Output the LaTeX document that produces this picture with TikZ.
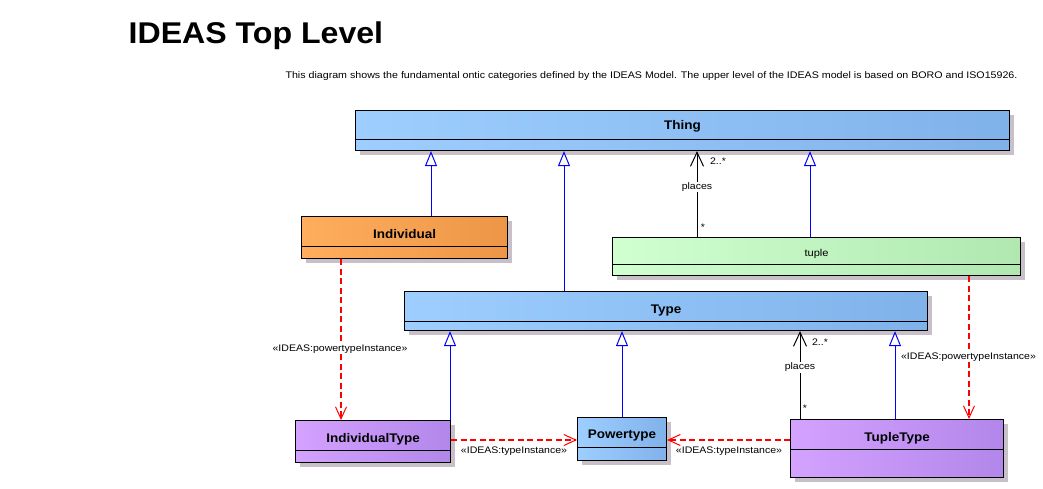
\documentclass[tikz,border=0pt]{standalone}
\usepackage{fontspec}
\setmainfont{Liberation Sans}
\newfontfamily\widefont[FakeStretch=1.11]{Liberation Sans}
\newfontfamily\namefont[FakeStretch=1.08]{Liberation Sans}
\newfontfamily\titlefont[FakeStretch=1.07]{Liberation Sans}
\usetikzlibrary{arrows.meta,shadows}
\definecolor{blueL}{HTML}{9ECEFF}
\definecolor{blueR}{HTML}{80B2EA}
\definecolor{orangeL}{HTML}{FFAE5E}
\definecolor{orangeR}{HTML}{EC9646}
\definecolor{greenL}{HTML}{D0FFD0}
\definecolor{greenR}{HTML}{B0E8B0}
\definecolor{purpleL}{HTML}{D4A2FF}
\definecolor{purpleR}{HTML}{B286EA}
\definecolor{shadowc}{HTML}{C8C0C8}
\definecolor{genfill}{HTML}{FFFFF0}
\definecolor{depred}{HTML}{FF0000}
\begin{document}
\begin{tikzpicture}[x=1pt,y=-1pt,
  cls/.style={draw=black, line width=1.1pt, rectangle, inner sep=0pt, anchor=north west,
    general shadow={fill=shadowc, shadow xshift=4pt, shadow yshift=-4pt}},
  clsname/.style={font=\namefont\fontsize{12.5}{14}\selectfont\bfseries, inner sep=0pt, anchor=base},
  lbl/.style={font=\widefont\fontsize{9.5}{11}\selectfont, inner sep=1pt},
  gen/.style={draw=blue, line width=1pt, -{Triangle[open, fill=genfill, length=15pt, width=12pt]}},
  assoc/.style={draw=black, line width=1pt, -{Straight Barb[length=14pt, width=13pt, line width=1pt]}},
  dep/.style={draw=depred, line width=1.1pt, dash pattern=on 6pt off 3.5pt, -{Straight Barb[length=12pt, width=11pt, line width=1pt]}},
  divl/.style={draw=black, line width=1pt}
]
\useasboundingbox (0,0) rectangle (1043,488);
\fill[white] (0,0) rectangle (1043,488);

% title and description
\node[anchor=base west, inner sep=0pt, font=\titlefont\fontsize{30}{34}\selectfont\bfseries] (title) at (128.5,43.3) {IDEAS Top Level};
\node[inner sep=0pt, font=\widefont\fontsize{9.6}{11}\selectfont] (desc) at (651.5,76) {This diagram shows the fundamental ontic categories defined by the IDEAS Model. The upper level of the IDEAS model is based on BORO and ISO15926.};

% classes
\node[cls, minimum width=654pt, minimum height=40pt, left color=blueL, right color=blueR] (Thing) at (355,110) {};
\draw[divl] ([yshift=-29pt]Thing.north west) -- ([yshift=-29pt]Thing.north east);
\node[clsname] (ThingName) at ([yshift=-19.3pt]Thing.north) {Thing};

\node[cls, minimum width=206pt, minimum height=42pt, left color=orangeL, right color=orangeR] (Individual) at (301,216) {};
\draw[divl] ([yshift=-30pt]Individual.north west) -- ([yshift=-30pt]Individual.north east);
\node[clsname] (IndividualName) at ([yshift=-22pt]Individual.north) {Individual};

\node[cls, minimum width=408pt, minimum height=38pt, left color=greenL, right color=greenR] (tuple) at (612,237) {};
\draw[divl] ([yshift=-27pt]tuple.north west) -- ([yshift=-27pt]tuple.north east);
\node[lbl, anchor=base, inner sep=0pt, font=\widefont\fontsize{10}{12}\selectfont] (tupleName) at ([yshift=-19pt]tuple.north) {tuple};

\node[cls, minimum width=523pt, minimum height=39pt, left color=blueL, right color=blueR] (Type) at (404,291) {};
\draw[divl] ([yshift=-30pt]Type.north west) -- ([yshift=-30pt]Type.north east);
\node[clsname] (TypeName) at ([yshift=-22pt]Type.north) {Type};

\node[cls, minimum width=155pt, minimum height=42pt, left color=purpleL, right color=purpleR] (IndividualType) at (295,420) {};
\draw[divl] ([yshift=-30pt]IndividualType.north west) -- ([yshift=-30pt]IndividualType.north east);
\node[clsname] (IndividualTypeName) at ([yshift=-22.3pt]IndividualType.north) {IndividualType};

\node[cls, minimum width=89pt, minimum height=43pt, left color=blueL, right color=blueR] (Powertype) at (577,417) {};
\draw[divl] ([yshift=-30pt]Powertype.north west) -- ([yshift=-30pt]Powertype.north east);
\node[clsname] (PowertypeName) at ([yshift=-21.7pt]Powertype.north) {Powertype};

\node[cls, minimum width=213pt, minimum height=58pt, left color=purpleL, right color=purpleR] (TupleType) at (790,419) {};
\draw[divl] ([yshift=-30pt]TupleType.north west) -- ([yshift=-30pt]TupleType.north east);
\node[clsname] (TupleTypeName) at ([yshift=-22.3pt]TupleType.north) {TupleType};

% helper coordinates for connector positions
\coordinate (xa) at (431,0);
\coordinate (xb) at (564,0);
\coordinate (xc) at (810,0);
\coordinate (xd) at (697,0);
\coordinate (xe) at (341,0);
\coordinate (xf) at (450,0);
\coordinate (xg) at (622,0);
\coordinate (xh) at (895,0);
\coordinate (xi) at (800,0);
\coordinate (xj) at (969,0);
\coordinate (yk) at (0,440);

% generalizations
\draw[gen] (Individual.north -| xa) -- (Thing.south -| xa);
\draw[gen] (Type.north -| xb) -- (Thing.south -| xb);
\draw[gen] (tuple.north -| xc) -- (Thing.south -| xc);
\draw[gen] (IndividualType.north -| xf) -- (Type.south -| xf);
\draw[gen] (Powertype.north -| xg) -- (Type.south -| xg);
\draw[gen] (TupleType.north -| xh) -- (Type.south -| xh);

% associations
\draw[assoc] (tuple.north -| xd) -- (Thing.south -| xd);
\node[lbl, fill=white] (places1) at (697,187) {places};
\node[lbl] (m1a) at (718,161) {2..*};
\node[lbl] (m1b) at (703,227) {*};

\draw[assoc] (TupleType.north -| xi) -- (Type.south -| xi);
\node[lbl, fill=white] (places2) at (800,367.5) {places};
\node[lbl] (m2a) at (820,342) {2..*};
\node[lbl] (m2b) at (805,408) {*};

% dependencies
\draw[dep] (Individual.south -| xe) -- (IndividualType.north -| xe);
\node[lbl, fill=white] (d1) at (340,349) {«IDEAS:powertypeInstance»};
\draw[dep] (tuple.south -| xj) -- (TupleType.north -| xj);
\node[lbl, fill=white] (d2) at (968.5,357) {«IDEAS:powertypeInstance»};
\draw[dep] (IndividualType.east |- yk) -- (Powertype.west |- yk);
\node[lbl] (d3) at (514,451) {«IDEAS:typeInstance»};
\draw[dep] (TupleType.west |- yk) -- (Powertype.east |- yk);
\node[lbl] (d4) at (729,451) {«IDEAS:typeInstance»};
\end{tikzpicture}
\end{document}
